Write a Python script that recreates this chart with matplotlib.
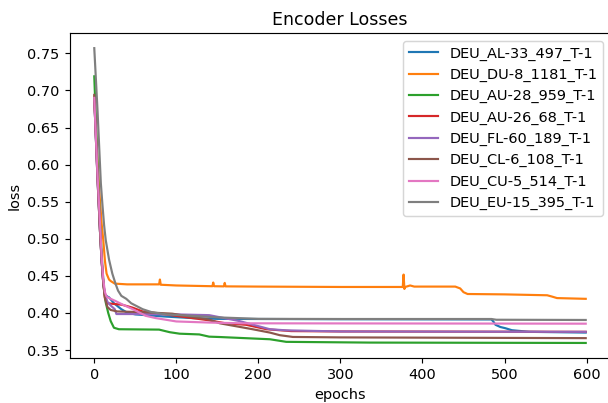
import matplotlib
matplotlib.use('Agg')
import matplotlib.pyplot as plt

# values (epoch, loss)
names = ['DEU_AL-33_497_T-1', 'DEU_DU-8_1181_T-1', 'DEU_AU-28_959_T-1', 'DEU_AU-26_68_T-1',
         'DEU_FL-60_189_T-1', 'DEU_CL-6_108_T-1', 'DEU_CU-5_514_T-1', 'DEU_EU-15_395_T-1']

al33_ep = [0, 4, 7, 9, 11, 13, 16, 18, 24, 33, 40, 50, 88, 120, 150, 200, 300, 484, 486, 489, 495, 501, 509, 530, 599]
al33_loss = [0.690, 0.580, 0.510, 0.470, 0.440, 0.425, 0.422, 0.421, 0.413, 0.405, 0.4005, 0.398, 0.395, 0.393,
             0.392, 0.3918, 0.3915, 0.3912, 0.389, 0.384, 0.381, 0.3794, 0.3767, 0.3745, 0.3735]

du8_ep = [0, 3, 6, 9, 11, 13, 15, 18, 20, 25, 40, 79, 80, 81, 100, 144, 145, 146, 158, 159, 160, 200, 300,
          376, 377, 378, 379, 385, 390, 440, 446, 450, 455, 500, 552, 558, 564, 599]
du8_loss = [0.692, 0.625, 0.566, 0.520, 0.498, 0.470, 0.453, 0.445, 0.443, 0.4395, 0.4385, 0.4385, 0.445, 0.438,
            0.437, 0.436, 0.441, 0.436, 0.4358, 0.4405, 0.4358, 0.4355, 0.435, 0.435, 0.4517, 0.4323, 0.435,
            0.437, 0.4355, 0.4355, 0.433, 0.428, 0.4255, 0.425, 0.4238, 0.422, 0.420, 0.419]

au28_ep = [0, 4, 7, 10, 12, 14, 17, 20, 24, 30, 79, 92, 104, 128, 140, 153, 214, 234, 336, 599]
au28_loss = [0.719, 0.600, 0.520, 0.460, 0.430, 0.414, 0.400, 0.389, 0.380, 0.378, 0.3775, 0.374, 0.372,
             0.371, 0.368, 0.3675, 0.3645, 0.361, 0.360, 0.3595]

au26_ep = [0, 4, 7, 9, 11, 13, 16, 25, 34, 47, 59, 80, 100, 140, 160, 185, 210, 240, 300, 599]
au26_loss = [0.690, 0.580, 0.510, 0.470, 0.440, 0.420, 0.413, 0.412, 0.411, 0.407, 0.402, 0.399, 0.396,
             0.390, 0.386, 0.384, 0.378, 0.3755, 0.375, 0.3745]

fl60_ep = [0, 4, 7, 9, 11, 13, 16, 20, 25, 27, 60, 100, 140, 177, 214, 234, 300, 599]
fl60_loss = [0.690, 0.580, 0.510, 0.470, 0.440, 0.425, 0.415, 0.410, 0.405, 0.3985, 0.3985, 0.398, 0.397,
             0.389, 0.378, 0.3765, 0.375, 0.3745]

cl6_ep = [0, 4, 7, 9, 11, 13, 16, 20, 28, 60, 95, 140, 153, 193, 214, 226, 242, 300, 599]
cl6_loss = [0.694, 0.585, 0.510, 0.470, 0.440, 0.420, 0.408, 0.404, 0.402, 0.401, 0.399, 0.391, 0.386,
            0.378, 0.3735, 0.370, 0.3676, 0.367, 0.366]

cu5_ep = [0, 4, 7, 9, 11, 13, 15, 20, 26, 35, 47, 63, 75, 100, 140, 180, 599]
cu5_loss = [0.690, 0.585, 0.520, 0.475, 0.445, 0.428, 0.422, 0.419, 0.416, 0.411, 0.405, 0.396, 0.393,
            0.3885, 0.387, 0.386, 0.3855]

eu15_ep = [0, 4, 8, 10, 12, 14, 18, 22, 26, 29, 33, 39, 45, 52, 59, 70, 88, 120, 150, 200, 300, 484, 490, 599]
eu15_loss = [0.757, 0.672, 0.575, 0.545, 0.518, 0.498, 0.472, 0.453, 0.439, 0.430, 0.423, 0.419, 0.413,
             0.409, 0.405, 0.401, 0.398, 0.396, 0.394, 0.392, 0.3918, 0.3918, 0.3908, 0.3905]

curves = [(al33_ep, al33_loss), (du8_ep, du8_loss), (au28_ep, au28_loss), (au26_ep, au26_loss),
          (fl60_ep, fl60_loss), (cl6_ep, cl6_loss), (cu5_ep, cu5_loss), (eu15_ep, eu15_loss)]

# the original looks rendered a touch larger than 100 dpi
DPI = 104
fig = plt.figure(figsize=(608 / DPI, 403 / DPI), dpi=DPI)
# axes run a bit past the right edge, like the cropped original
ax = fig.add_axes([69.7 / 608, 1 - 357.7 / 403, 540.6 / 608, (357.7 - 33.4) / 403])

for (ep, loss), name in zip(curves, names):
    ax.plot(ep, loss, label=name)

ax.set_title('Encoder Losses')
ax.set_xlabel('epochs')
ax.set_ylabel('loss')
ax.legend(loc='upper right')

fig.savefig('out.png', dpi=DPI)
